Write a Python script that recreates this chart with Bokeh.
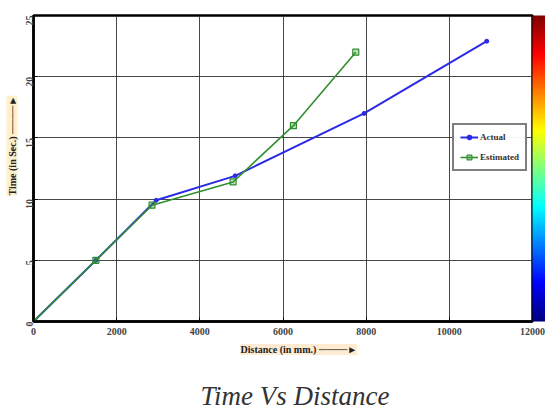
import math
from bokeh.plotting import figure
from bokeh.models import (ColumnDataSource, Legend, LegendItem, Title,
                          ColorBar, LinearColorMapper, FixedTicker, Range1d)
from bokeh.embed import file_html
from bokeh.resources import INLINE

# ---- data ----
actual_x = [0, 1500, 2950, 4850, 7950, 10900]
actual_y = [0, 5, 9.9, 11.9, 17, 22.9]
est_x = [0, 1500, 2850, 4800, 6250, 7750]
est_y = [0, 5, 9.5, 11.4, 16, 22]
x_ticks = [0, 2000, 4000, 6000, 8000, 10000, 12000]
y_ticks = [0, 5, 10, 15, 20, 25]
series_names = ["Actual", "Estimated"]
title_text = "Time Vs Distance"
x_label = "Distance (in mm.)"
y_label = "Time (in Sec.)"
arrow_text = " \u2500\u2500\u2500\u2500\u25ba"

# jet-like palette (style only)
def jet(n=256):
    cols = []
    for i in range(n):
        v = i / (n - 1)
        r = min(max(min(4 * v - 1.5, -4 * v + 4.5), 0), 1)
        g = min(max(min(4 * v - 0.5, -4 * v + 3.5), 0), 1)
        b = min(max(min(4 * v + 0.5, -4 * v + 2.5), 0), 1)
        cols.append("#%02x%02x%02x" % (int(r * 255), int(g * 255), int(b * 255)))
    return cols

W, H = 545, 414
p = figure(width=W, height=H, output_backend="svg", toolbar_location=None,
           x_range=Range1d(0, 12000), y_range=Range1d(0, 25),
           min_border_left=33, min_border_right=0, min_border_top=15, min_border_bottom=93)

p.outline_line_color = "black"
p.outline_line_width = 2.5
p.background_fill_color = "white"
p.border_fill_color = "white"

for ax in (p.xaxis[0], p.yaxis[0]):
    ax.axis_line_color = "black"
    ax.axis_line_width = 2.5
    ax.major_tick_in = 4
    ax.major_tick_out = 0
    ax.minor_tick_line_color = None
    ax.major_label_text_font = "Liberation Serif"
    ax.major_label_text_font_size = "10px"
    ax.major_label_text_font_style = "bold"
    ax.major_label_text_color = "#444444"

p.xaxis.ticker = FixedTicker(ticks=x_ticks)
p.yaxis.ticker = FixedTicker(ticks=y_ticks)
p.xaxis.major_label_standoff = 6
p.yaxis.major_label_standoff = 4
p.yaxis.major_label_orientation = math.pi / 2

p.xgrid.ticker = FixedTicker(ticks=x_ticks)
p.ygrid.ticker = FixedTicker(ticks=y_ticks)
for g in (p.xgrid[0], p.ygrid[0]):
    g.grid_line_color = "#333333"
    g.grid_line_width = 1
    g.grid_line_alpha = 0.9

blue = "#2b2be6"
green = "#2f8f2f"

src_a = ColumnDataSource(dict(x=actual_x, y=actual_y))
src_e = ColumnDataSource(dict(x=est_x, y=est_y))

la = p.line("x", "y", source=src_a, line_color=blue, line_width=2)
ma = p.scatter("x", "y", source=src_a, marker="circle", size=4, color=blue)
le = p.line("x", "y", source=src_e, line_color=green, line_width=1.6)
me = p.scatter("x", "y", source=src_e, marker="square", size=6, line_color=green,
               fill_color=green, fill_alpha=0.3, line_width=1.2)

legend = Legend(items=[LegendItem(label=series_names[0], renderers=[la, ma]),
                       LegendItem(label=series_names[1], renderers=[le, me])],
                location=(419, 150))
legend.label_text_font = "Liberation Serif"
legend.label_text_font_size = "9px"
legend.label_text_font_style = "bold"
legend.label_text_color = "#333333"
legend.border_line_color = "black"
legend.border_line_width = 2
legend.glyph_width = 18
legend.glyph_height = 12
legend.label_standoff = 2
legend.padding = 6
legend.spacing = 8
legend.margin = 0
legend.label_height = 12
p.add_layout(legend, "center")

# color bar
mapper = LinearColorMapper(palette=jet(), low=0, high=1)
cb = ColorBar(color_mapper=mapper, width=13, padding=0, margin=12,
              ticker=FixedTicker(ticks=[]), major_tick_line_color=None,
              major_label_text_font_size="1px", label_standoff=0,
              bar_line_color=None, border_line_color=None, background_fill_color=None)
p.add_layout(cb, "right")

# axis labels as titles in the side panels
xl = Title(text=x_label + arrow_text, align="left", offset=207, standoff=9,
           text_font="Liberation Serif", text_font_size="10px", text_font_style="bold",
           text_color="#222222", background_fill_color="#fde3bd", background_fill_alpha=0.7)
p.add_layout(xl, "below")

spacer = Title(text=" ", text_font_size="1px", standoff=14)
p.add_layout(spacer, "below")

tl = Title(text=title_text, align="left", offset=167, standoff=4,
           text_font="Liberation Serif", text_font_size="27px", text_font_style="italic",
           text_color="#333333")
p.add_layout(tl, "below")

yl = Title(text=y_label + arrow_text, align="left", offset=126, standoff=4,
           text_font="Liberation Serif", text_font_size="10px", text_font_style="bold",
           text_color="#222222", background_fill_color="#fbeab8", background_fill_alpha=0.7)
p.add_layout(yl, "left")

open("out.html", "w").write(file_html(p, INLINE))
